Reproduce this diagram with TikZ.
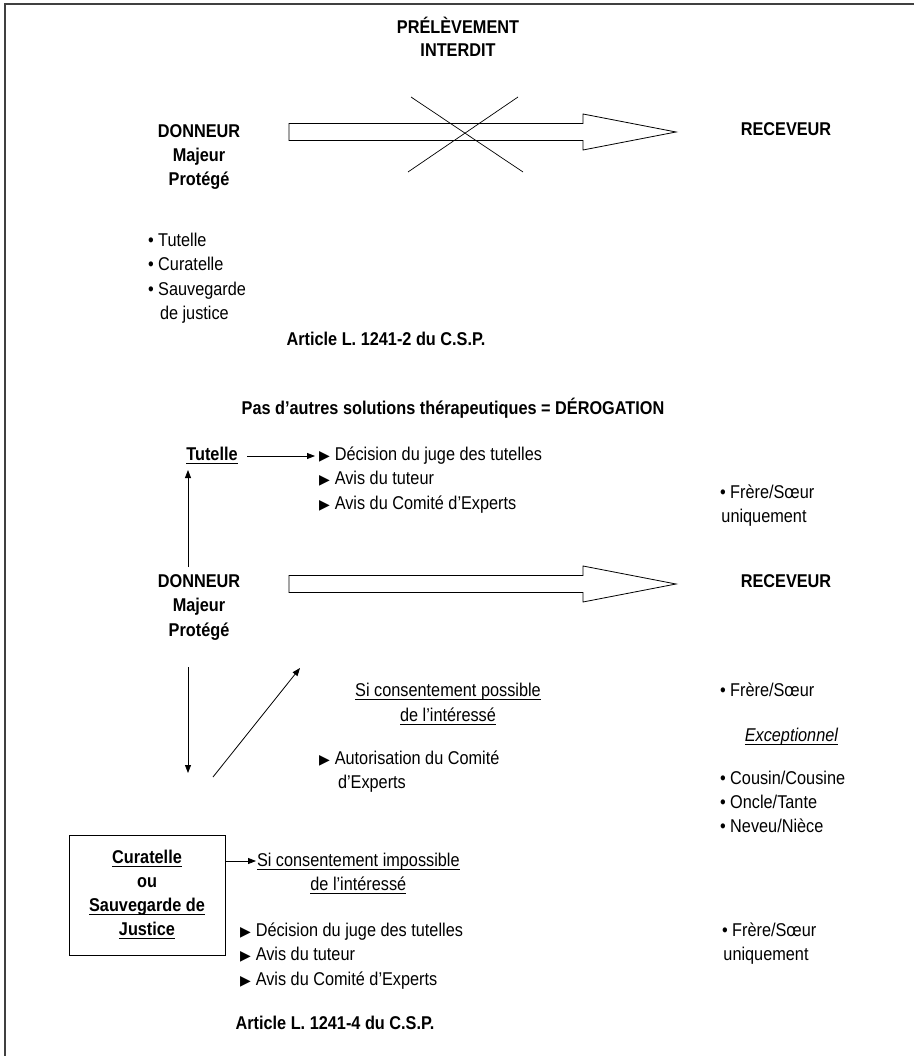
\documentclass[tikz,border=0pt]{standalone}
\usepackage{fontspec}
\setmainfont{Liberation Sans}[FakeStretch=0.88]
\newfontfamily\symfont{DejaVu Sans}
\usetikzlibrary{arrows.meta}
\newsavebox{\ulinebox}
% underlined text: a thin rule set a little below the baseline
\newcommand{\ulin}[1]{\sbox{\ulinebox}{#1}\rlap{\rule[-4pt]{\wd\ulinebox}{0.8pt}}\usebox{\ulinebox}}
\newcommand{\tri}{{\symfont\fontsize{14}{24}\selectfont ▶}\hspace{5pt}}
\begin{document}
\begin{tikzpicture}[x=1pt,y=-1pt,
  every node/.style={inner sep=0pt,outer sep=0pt},
  txt/.style={font=\fontsize{18.5}{24}\selectfont},
  hd/.style={font=\fontsize{18.5}{24}\selectfont\bfseries},
  it/.style={font=\fontsize{18.5}{24}\selectfont\itshape},
  link/.style={draw=black,line width=0.8pt,-{Triangle[length=8pt,width=6pt]}},
  hollow/.style={draw=black,line width=0.8pt,fill=white},
  crossline/.style={draw=black,line width=0.7pt},
  frame/.style={draw=black!75,line width=1.6pt},
  box/.style={draw=black,line width=0.9pt,minimum width=156pt,minimum height=120pt}]

\useasboundingbox (0,0) rectangle (914,1056);
\draw[frame] (914,4) -- (5,4) -- (5,1056);

% ---------- forbidden removal ----------
\node[hd,anchor=base] (pr1) at (458,34) {PRÉLÈVEMENT};
\node[hd,anchor=base] (pr2) at (458,57) {INTERDIT};

\node[hd,anchor=base] (dA1) at (199,138) {DONNEUR};
\node[hd,anchor=base] (dA2) at (199,162) {Majeur};
\node[hd,anchor=base] (dA3) at (199,186) {Protégé};
\node[hd,anchor=base] (rA) at (786,136) {RECEVEUR};

\draw[hollow] (289,123.5) -- (583,123.5) -- (583,114) -- (676,132)
  -- (583,150) -- (583,140.5) -- (289,140.5) -- cycle;
\draw[crossline] (411,97) -- (523,172);
\draw[crossline] (518,97) -- (408,172);

\node[txt,anchor=base west] (bA1) at (148,247) {• Tutelle};
\node[txt,anchor=base west] (bA2) at (148,271) {• Curatelle};
\node[txt,anchor=base west] (bA3) at (148,295) {• Sauvegarde};
\node[txt,anchor=base west] (bA4) at (160,319) {de justice};

\node[hd,anchor=base] (artA) at (386,345) {Article L. 1241-2 du C.S.P.};
\node[hd,anchor=base] (der) at (453,414) {Pas d’autres solutions thérapeutiques = DÉROGATION};

% ---------- derogation ----------
\node[hd,anchor=base] (tut) at (212,460) {\ulin{Tutelle}};
\node[txt,anchor=base west] (tA1) at (319,460) {\tri Décision du juge des tutelles};
\node[txt,anchor=base west] (tA2) at (319,484) {\tri Avis du tuteur};
\node[txt,anchor=base west] (tA3) at (319,509) {\tri Avis du Comité d’Experts};
\node[txt,anchor=base west] (fA1) at (720,498) {• Frère/Sœur};
\node[txt,anchor=base] (fA2) at (764,522) {uniquement};

\node[hd,anchor=base] (dB1) at (199,587) {DONNEUR};
\node[hd,anchor=base] (dB2) at (199,611) {Majeur};
\node[hd,anchor=base] (dB3) at (199,636) {Protégé};
\node[hd,anchor=base] (rB) at (786,587) {RECEVEUR};

\draw[hollow] (289,575.5) -- (583,575.5) -- (583,566) -- (676,584)
  -- (583,602) -- (583,592.5) -- (289,592.5) -- cycle;

\node[txt,anchor=base] (pos1) at (448,696) {\ulin{Si consentement possible}};
\node[txt,anchor=base] (pos2) at (448,721) {\ulin{de l’intéressé}};
\node[txt,anchor=base west] (fB1) at (720,696) {• Frère/Sœur};
\node[it,anchor=base east] (exc) at (838,741) {\ulin{Exceptionnel}};
\node[txt,anchor=base west] (au1) at (319,764) {\tri Autorisation du Comité};
\node[txt,anchor=base west] (au2) at (338,788) {d’Experts};
\node[txt,anchor=base west] (cB1) at (720,784) {• Cousin/Cousine};
\node[txt,anchor=base west] (cB2) at (720,808) {• Oncle/Tante};
\node[txt,anchor=base west] (cB3) at (720,832) {• Neveu/Nièce};

\node[box] (cur) at (147,895) {};
\node[hd,anchor=base] (cu1) at (147,863) {\ulin{Curatelle}};
\node[hd,anchor=base] (cu2) at (147,887) {ou};
\node[hd,anchor=base] (cu3) at (147,911) {\ulin{Sauvegarde de}};
\node[hd,anchor=base] (cu4) at (147,935) {\ulin{Justice}};

\node[txt,anchor=base west] (imp1) at (257,866) {\ulin{Si consentement impossible}};
\node[txt,anchor=base] (imp2) at ([yshift=-24pt]imp1.base) {\ulin{de l’intéressé}};
\node[txt,anchor=base west] (tC1) at (240,936) {\tri Décision du juge des tutelles};
\node[txt,anchor=base west] (tC2) at (240,960) {\tri Avis du tuteur};
\node[txt,anchor=base west] (tC3) at (240,985) {\tri Avis du Comité d’Experts};
\node[txt,anchor=base west] (fC1) at (722,936) {• Frère/Sœur};
\node[txt,anchor=base] (fC2) at (766,960) {uniquement};

\node[hd,anchor=base] (artB) at (335,1029) {Article L. 1241-4 du C.S.P.};

% ---------- connectors ----------
\coordinate (ta) at (247,456);
\draw[link] (ta) -- ([xshift=-4pt]tA1.west |- ta);
\coordinate (up0) at (188,567);
\coordinate (up1) at (188,470);
\draw[link] (up0) -- (up1);
\coordinate (dn0) at (188,667);
\coordinate (dn1) at (188,773);
\draw[link] (dn0) -- (dn1);
\coordinate (dg0) at (213,777);
\coordinate (dg1) at (300,668);
\draw[link] (dg0) -- (dg1);
\coordinate (bx) at (cur.east |- 0,861);
\draw[link] (bx) -- ([xshift=-1pt]imp1.west |- bx);
\end{tikzpicture}
\end{document}
